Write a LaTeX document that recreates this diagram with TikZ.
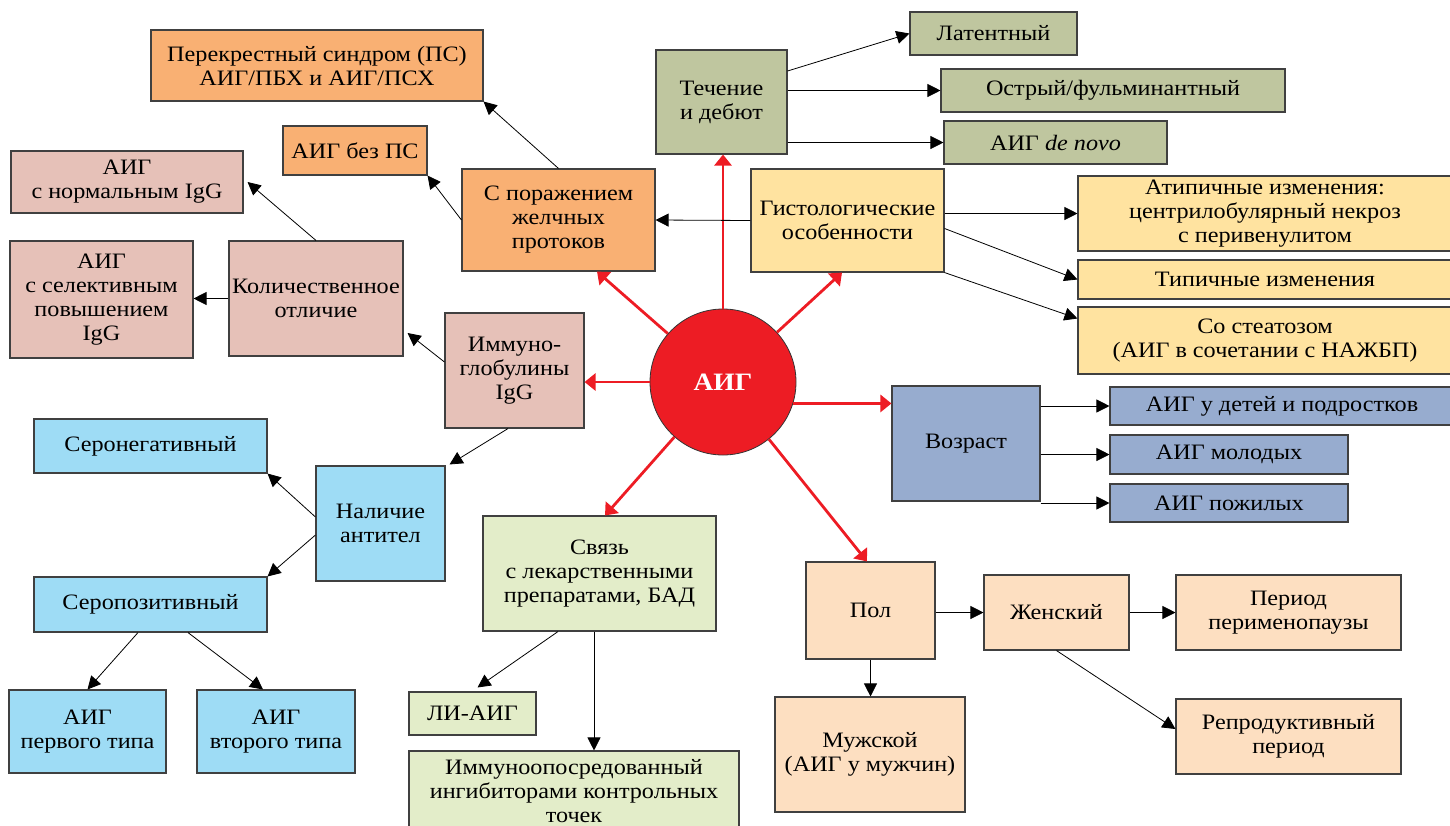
\documentclass[tikz,border=0pt]{standalone}
\usepackage{fontspec}
\setmainfont{Liberation Serif}[FakeStretch=1.1]
\usetikzlibrary{arrows.meta}
\definecolor{orangeF}{HTML}{F9B073}
\definecolor{roseF}{HTML}{E6C1B8}
\definecolor{oliveF}{HTML}{BFC69F}
\definecolor{yellowF}{HTML}{FFE3A0}
\definecolor{redC}{HTML}{ED1C24}
\definecolor{blueG}{HTML}{97ACCF}
\definecolor{lblueF}{HTML}{9EDCF5}
\definecolor{lgreenF}{HTML}{E3EDC9}
\definecolor{peachF}{HTML}{FDDFC1}
\begin{document}
\begin{tikzpicture}[x=1pt,y=-1pt,
  box/.style={draw=black!75, line width=1.1pt, align=center, inner sep=2pt,
    font=\fontsize{22}{24}\selectfont},
  arr/.style={-{Triangle[length=13pt,width=13pt]}, line width=0.8pt, draw=black},
  rarr/.style={-{Triangle[length=11pt,width=17pt]}, line width=2.8pt, draw=redC, fill=redC}
]
\useasboundingbox (0,0) rectangle (1450,825);

% left-top orange
\node[box, fill=orangeF, minimum width=332, minimum height=71] (ps) at (317,65.5) {Перекрестный синдром (ПС)\\АИГ/ПБХ и АИГ/ПСХ};
\node[box, fill=orangeF, minimum width=144, minimum height=49] (bezps) at (355,150.5) {АИГ без ПС};
\node[box, fill=orangeF, minimum width=193, minimum height=102] (por) at (558.5,220) {С поражением\\желчных\\протоков};

% rose
\node[box, fill=roseF, minimum width=232, minimum height=62] (norm) at (127,182) {АИГ\\с нормальным IgG};
\node[box, fill=roseF, minimum width=183, minimum height=117] (sel) at (101.5,299.5) {АИГ\\с селективным\\повышением\\IgG};
\node[box, fill=roseF, minimum width=174, minimum height=115] (kol) at (316,298.5) {Количественное\\отличие};
\node[box, fill=roseF, minimum width=139, minimum height=115] (imm) at (514.5,370.5) {Иммуно-\\глобулины\\IgG};

% olive
\node[box, fill=oliveF, minimum width=131, minimum height=104] (tech) at (721.5,102) {Течение\\и дебют};
\node[box, fill=oliveF, minimum width=167, minimum height=43] (lat) at (993.5,33.5) {Латентный};
\node[box, fill=oliveF, minimum width=344, minimum height=43] (ost) at (1113,90.5) {Острый/фульминантный};
\node[box, fill=oliveF, minimum width=223, minimum height=43] (denovo) at (1055.5,142.5) {АИГ \textit{de novo}};

% yellow
\node[box, fill=yellowF, minimum width=193, minimum height=103] (gist) at (847.5,220.5) {Гистологические\\особенности};
\node[box, fill=yellowF, minimum width=374, minimum height=75] (atip) at (1265,213.5) {Атипичные изменения:\\центрилобулярный некроз\\с перивенулитом};
\node[box, fill=yellowF, minimum width=374, minimum height=39] (tip) at (1265,279.5) {Типичные изменения};
\node[box, fill=yellowF, minimum width=374, minimum height=67] (steat) at (1265,340.5) {Со стеатозом\\(АИГ в сочетании с НАЖБП)};

% centre
\node[circle, fill=redC, draw=black!80, line width=0.8pt, minimum size=146, inner sep=0pt,
  text=white, font=\bfseries\fontsize{25}{28}\selectfont] (c) at (723,382) {АИГ};

% blue-grey
\node[box, fill=blueG, minimum width=148, minimum height=115] (voz) at (966,443.5) {Возраст};
\node[box, fill=blueG, minimum width=344, minimum height=38] (det) at (1282,406) {АИГ у детей и подростков};
\node[box, fill=blueG, minimum width=238, minimum height=39] (mol) at (1229,454.5) {АИГ молодых};
\node[box, fill=blueG, minimum width=238, minimum height=38] (pozh) at (1229,503) {АИГ пожилых};

% light blue
\node[box, fill=lblueF, minimum width=233, minimum height=54] (seroneg) at (150.5,446) {Серонегативный};
\node[box, fill=lblueF, minimum width=129, minimum height=115] (nal) at (380.5,523.5) {Наличие\\антител};
\node[box, fill=lblueF, minimum width=233, minimum height=55] (seropos) at (150.5,604.5) {Серопозитивный};
\node[box, fill=lblueF, minimum width=157, minimum height=83] (t1) at (87.5,731.5) {АИГ\\первого типа};
\node[box, fill=lblueF, minimum width=158, minimum height=83] (t2) at (276,731.5) {АИГ\\второго типа};

% light green
\node[box, fill=lgreenF, minimum width=233, minimum height=115] (svyaz) at (599.5,573.5) {Связь\\с лекарственными\\препаратами, БАД};
\node[box, fill=lgreenF, minimum width=127, minimum height=43] (li) at (472.5,713.5) {ЛИ-АИГ};
\node[box, fill=lgreenF, minimum width=330, minimum height=80] (immo) at (574,791) {Иммуноопосредованный\\ингибиторами контрольных\\точек};

% peach
\node[box, fill=peachF, minimum width=129, minimum height=97] (pol) at (870.5,610.5) {Пол};
\node[box, fill=peachF, minimum width=190, minimum height=115] (muzh) at (870,754.5) {Мужской\\(АИГ у мужчин)};
\node[box, fill=peachF, minimum width=145, minimum height=75] (zhen) at (1056.5,612.5) {Женский};
\node[box, fill=peachF, minimum width=225, minimum height=75] (period) at (1288.5,612.5) {Период\\перименопаузы};
\node[box, fill=peachF, minimum width=225, minimum height=75] (repr) at (1288.5,736.5) {Репродуктивный\\период};

% red connectors
\draw[rarr] (c.north) -- (c.north |- tech.south);
\draw[rarr] (c) -- ([xshift=38.5pt]por.south);
\draw[rarr] (c) -- ([xshift=-5.5pt]gist.south);
\draw[rarr] (c.west) -- (c.west -| imm.east);
\draw[rarr] (c.-17.5) -- (c.-17.5 -| voz.west);
\draw[rarr] (c) -- ([xshift=5.5pt]svyaz.north);
\draw[rarr] (c) -- ([xshift=-3.5pt]pol.north);

% black connectors
\draw[arr] (por.north) -- (ps.south east);
\draw[arr] (por.west) -- (bezps.south east);
\draw[arr] (gist.west) -- (por.east);
\draw[arr] ([yshift=31pt]tech.east) -- (lat.west);
\draw[arr] (tech.east |- ost.west) -- (ost.west);
\draw[arr] (tech.east |- denovo.west) -- (denovo.west);
\draw[arr] (gist.east |- atip.west) -- (atip.west);
\draw[arr] ([yshift=-8pt]gist.east) -- (tip.west);
\draw[arr] (gist.south east) -- ([yshift=22pt]steat.west);
\draw[arr] (kol.north) -- ([xshift=4pt]norm.east);
\draw[arr] (kol.west) -- (sel.east |- kol.west);
\draw[arr] ([yshift=8.5pt]imm.west) -- ([xshift=4pt,yshift=-34.5pt]kol.east);
\draw[arr] ([xshift=-6.5pt]imm.south) -- ([xshift=4pt,yshift=1pt]nal.north east);
\draw[arr] ([yshift=6.5pt]nal.west) -- (seroneg.south east);
\draw[arr] ([yshift=-11.5pt]nal.west) -- (seropos.north east);
\draw[arr] ([xshift=-12.5pt]seropos.south) -- (t1.north);
\draw[arr] ([xshift=37.5pt]seropos.south) -- ([xshift=-13pt]t2.north);
\draw[arr] ([xshift=-41.5pt]svyaz.south) -- ([xshift=5pt,yshift=4pt]li.north);
\draw[arr] ([xshift=-5.5pt]svyaz.south) coordinate (s1) -- (s1 |- immo.north);
\draw[arr] (pol.south) -- (pol.south |- muzh.north);
\draw[arr] (pol.east |- zhen.west) -- (zhen.west);
\draw[arr] (zhen.east) -- (period.west);
\draw[arr] (zhen.south) -- ([yshift=7.5pt]repr.west);
\draw[arr] (voz.east |- det.west) -- (det.west);
\draw[arr] (voz.east |- mol.west) -- (mol.west);
\draw[arr] (voz.east |- pozh.west) -- (pozh.west);
\end{tikzpicture}
\end{document}
